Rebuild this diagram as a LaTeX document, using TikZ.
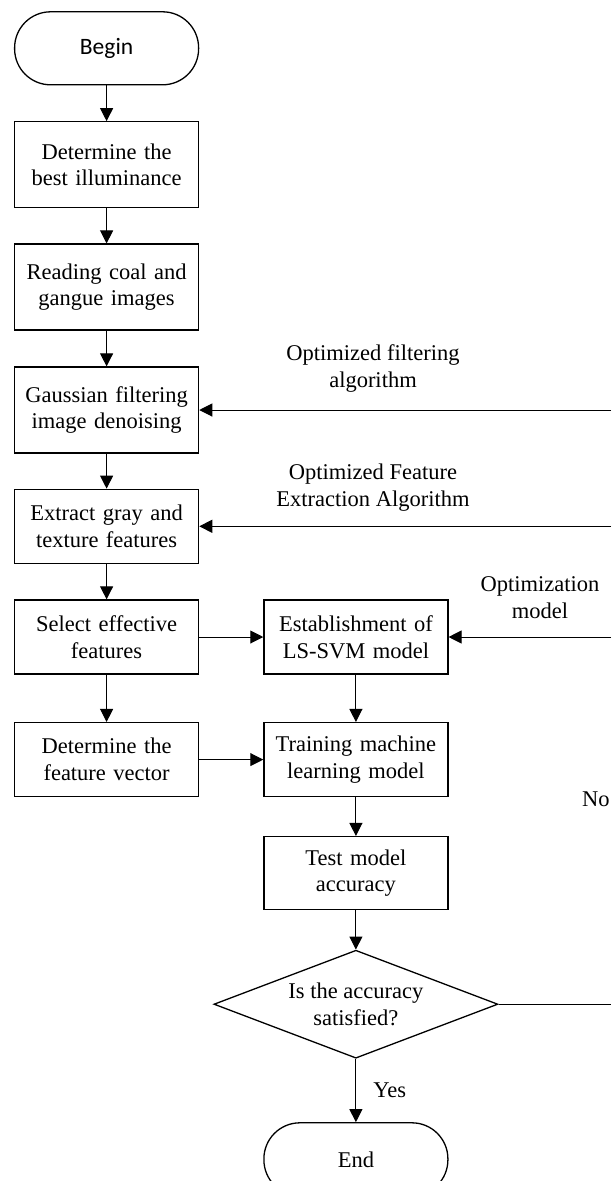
\documentclass[tikz,border=0pt]{standalone}
\usepackage{fontspec}
\setmainfont{Liberation Serif}
\newfontfamily\calibri{Carlito}
\usetikzlibrary{arrows.meta,shapes,positioning}

\begin{document}
\begin{tikzpicture}[x=1pt,y=1pt]
        \tikzstyle{txt}=[font=\fontsize{22.5}{26.7}\selectfont]
        \tikzstyle{term}=[txt, rectangle, rounded corners=36pt, draw=black, line width=1.3pt, minimum width=184pt, minimum height=73pt, inner sep=0pt]
        \tikzstyle{block}=[txt, rectangle, draw=black, line width=1.3pt, minimum width=184pt, minimum height=86pt, inner sep=0pt, text width=182pt, align=center]
        \tikzstyle{blocks}=[block, minimum height=74pt]
        \tikzstyle{decide}=[txt, diamond, aspect=2.62, draw=black, line width=1.3pt, minimum width=284pt, minimum height=108pt, inner sep=0pt, align=center]
        \tikzstyle{lbl}=[txt, inner sep=0pt, align=center]
        \tikzstyle{connect}=[-{Triangle[length=13pt,width=13pt]}, line width=1pt]
        \useasboundingbox[fill=white] (0,0) rectangle (611,-1181);
        \node[term,font=\calibri\fontsize{23.5}{27}\selectfont] (begin) at (106.6,-48.3) {Begin};
        \node[block] (illum) [below=35.7pt of begin] {Determine the\\best illuminance};
        \node[block] (read) [below=35pt of illum] {Reading coal and\\gangue images};
        \node[block] (gauss) [below=35.6pt of read] {Gaussian filtering\\image denoising};
        \node[blocks] (extract) [below=35pt of gauss] {Extract gray and\\texture features};
        \node[blocks] (select) [below=35.4pt of extract] {Select effective\\features};
        \node[blocks] (vector) [below=47.3pt of select] {Determine the\\feature vector};
        \node[blocks] (svm) [right=64pt of select] {Establishment of\\LS-SVM model};
        \node[blocks] (train) [below=47.3pt of svm] {Training machine\\learning model};
        \node[blocks,minimum height=73pt] (test) [below=38.7pt of train] {Test model\\accuracy};
        \node[decide] (check) [below=39.3pt of test] {Is the accuracy\\satisfied?};
        \node[term] (end) [below=63.3pt of check] {End};
        % feedback side
        \coordinate (rim) at (611,0);
        \coordinate (fbfilter) at (gauss.east -| rim);
        \coordinate (fbfeature) at (extract.east -| rim);
        \coordinate (fbmodel) at (svm.east -| rim);
        \coordinate (fbno) at (check.east -| rim);
        \node[lbl] (optfilter) at (373,-368.5) {Optimized filtering\\algorithm};
        \node[lbl] (optfeature) at (373,-487.5) {Optimized Feature\\Extraction Algorithm};
        \node[lbl] (optmodel) at (540,-598) {Optimization\\model};
        \node[lbl,anchor=west] (no) at (582,-799) {No};
        \path (begin) edge [connect] (illum)
        (illum) edge [connect] (read)
        (read) edge [connect] (gauss)
        (gauss) edge [connect] (extract)
        (extract) edge [connect] (select)
        (select) edge [connect] (vector)
        (select) edge [connect] (svm)
        (vector) edge [connect] (train)
        (svm) edge [connect] (train)
        (train) edge [connect] (test)
        (test) edge [connect] (check)
        (check) edge [connect] node[lbl,right,xshift=17pt] (yes) {Yes} (end)
        (fbfilter) edge [connect] (gauss.east)
        (fbfeature) edge [connect] (extract.east)
        (fbmodel) edge [connect] (svm.east);
        \draw[line width=1pt] (check.east) -- (fbno);
      \end{tikzpicture}
\end{document}
